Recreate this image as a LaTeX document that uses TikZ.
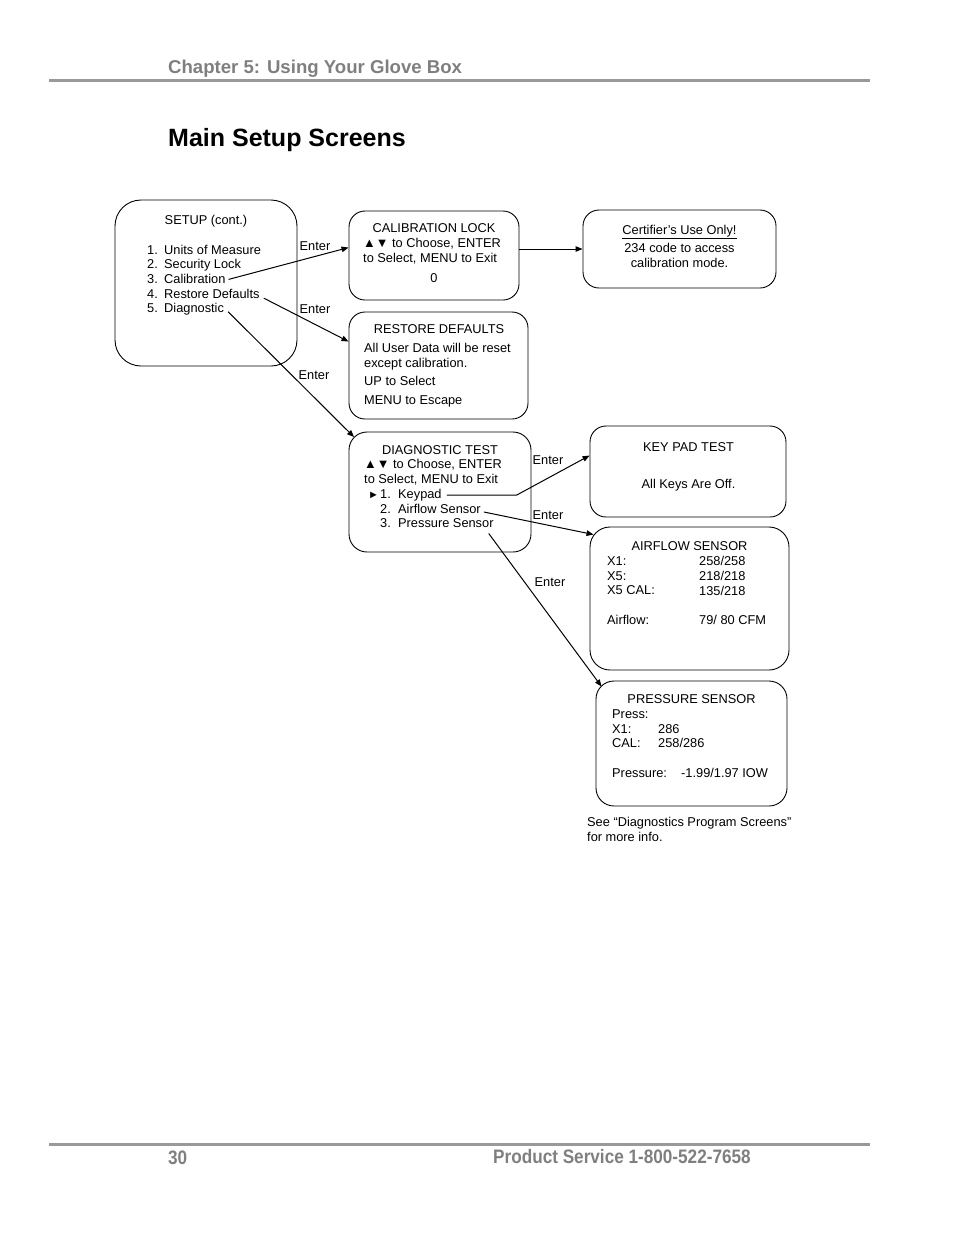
\documentclass[tikz,border=0pt]{standalone}
\usepackage{fontspec}
\setmainfont{Liberation Sans}
\newfontfamily\narrowfont[FakeStretch=0.88]{Liberation Sans}
\usetikzlibrary{arrows.meta,calc}
\definecolor{headgray}{HTML}{7F7F7F}
\definecolor{rulegray}{HTML}{999999}
\newcommand{\scrfont}{\fontsize{12.8}{14.7}\selectfont}

\begin{document}
\begin{tikzpicture}[
  x=1pt, y=-1pt,
  scr/.style={draw, line width=0.9pt, rounded corners=16pt},
  txt/.style={font=\scrfont, inner sep=0pt, anchor=base west},
  ctr/.style={font=\scrfont, inner sep=0pt, anchor=base},
  blkl/.style={font=\scrfont, inner sep=0pt, anchor=north west, align=left},
  blkc/.style={font=\scrfont, inner sep=0pt, anchor=north, align=center},
  lbl/.style={font=\scrfont, inner sep=0pt},
  arrow/.style={-{Triangle[length=7pt, width=5.5pt]}, line width=1pt}
]
\useasboundingbox (0,0) rectangle (954,1235);

% ---- Page head ----
\node[anchor=base west, inner sep=0pt, text=headgray,
  font=\fontsize{18.6}{22}\selectfont\bfseries] (chap) at (168,73)
  {Chapter 5: Using Your Glove Box};
\draw[rulegray, line width=3pt] (49,80) -- (870,80);
\node[anchor=base west, inner sep=0pt,
  font=\fontsize{25}{30}\selectfont\bfseries] (title) at (168,146)
  {Main Setup Screens};

% ---- Screens ----
\node[scr, rounded corners=26pt, minimum width=182pt, minimum height=166pt] (setup) at (206,283) {};
\node[scr, minimum width=170pt, minimum height=89pt] (callock) at (434,255.5) {};
\node[scr, minimum width=193pt, minimum height=78pt] (certif) at (679.5,249) {};
\node[scr, minimum width=179pt, minimum height=107pt] (restore) at (438.5,365.5) {};
\node[scr, rounded corners=18pt, minimum width=182pt, minimum height=120pt] (diag) at (440,492) {};
\node[scr, minimum width=196pt, minimum height=91pt] (keypad) at (688,471.5) {};
\node[scr, rounded corners=20pt, minimum width=199pt, minimum height=143pt] (airflow) at (689.5,598.5) {};
\node[scr, rounded corners=18pt, minimum width=191pt, minimum height=125pt] (press) at (691.5,743.5) {};

% setup menu
\node[ctr] (setuptl) at (206,224) {SETUP (cont.)};
\node[txt] (units)   at (147,254)   {\makebox[17pt][l]{1.}Units of Measure};
\node[txt] (seclock) at (147,268.7) {\makebox[17pt][l]{2.}Security Lock};
\node[txt] (calib)   at (147,283.4) {\makebox[17pt][l]{3.}Calibration};
\node[txt] (restdef) at (147,298.1) {\makebox[17pt][l]{4.}Restore Defaults};
\node[txt] (diagn)   at (147,312.8) {\makebox[17pt][l]{5.}Diagnostic};

% calibration lock + certifier note
\node[ctr] (caltl) at (434,232) {CALIBRATION LOCK};
\node[blkl] (caltxt) at (363,238) {▲▼ to Choose, ENTER\\ to Select, MENU to Exit};
\node[ctr] (calval) at (434,282) {0};
\node[blkc] (certtxt) at (679.5,225)
  {\underline{Certifier’s Use Only!}\\[3.3pt] 234 code to access\\ calibration mode.};

% restore defaults
\node[ctr] (resttl) at (439,333) {RESTORE DEFAULTS};
\node[blkl] (restxt) at (364,343.3)
  {All User Data will be reset\\ except calibration.\\[3.6pt] UP to Select\\[4.3pt] MENU to Escape};

% diagnostic test
\node[ctr] (diagtl) at (440,454) {DIAGNOSTIC TEST};
\node[blkl] (diagtxt) at (364,459) {▲▼ to Choose, ENTER\\ to Select, MENU to Exit};
\node[txt] (kpitem) at (368,498) {\makebox[12pt][l]{\fontsize{11}{12}\selectfont ►}\makebox[18pt][l]{1.}Keypad};
\node[txt] (afitem) at (380,513) {\makebox[18pt][l]{2.}Airflow Sensor};
\node[txt] (psitem) at (380,527.5) {\makebox[18pt][l]{3.}Pressure Sensor};

% key pad test
\node[ctr] (kptl)  at (688.5,451) {KEY PAD TEST};
\node[ctr] (kptxt) at (688.5,488) {All Keys Are Off.};

% airflow sensor
\node[ctr] (aftl) at (689.5,550) {AIRFLOW SENSOR};
\node[blkl] (afkeys) at (607,556.3) {X1:\\ X5:\\ X5 CAL:\\[14.7pt] Airflow:};
\node[blkl] (afvals) at (699,556.3) {258/258\\ 218/218\\ 135/218\\[14.7pt] 79/ 80 CFM};

% pressure sensor
\node[ctr] (pstl) at (691.5,703) {PRESSURE SENSOR};
\node[blkl] (pskeys) at (612,709.3) {Press:\\ X1:\\ CAL:\\[14.7pt] Pressure:};
\node[blkl] (psvals) at (658,724) {286\\ 258/286};
\node[txt] (psread) at (681,777.4) {-1.99/1.97 IOW};
\node[blkl] (seenote) at (587,817) {See “Diagnostics Program Screens”\\ for more info.};

% ---- Wiring ----
\draw[arrow] ($(calib.base east)+(3,-4)$) -- ($(callock.north west)+(0,37)$);
\node[lbl] (encal) at (315,246) {Enter};
\draw[arrow] ($(restdef.base east)+(4,0)$) -- ($(restore.north west)+(0,30)$);
\node[lbl] (enrest) at (315,309) {Enter};
\draw[arrow] ($(diagn.base east)+(4,-1)$) -- ($(diag.north west)+(5.5,5.5)$);
\node[lbl] (endiag) at (314,375) {Enter};
\draw[arrow] (callock.east |- certif.west) -- (certif.west);

\draw[arrow] ($(kpitem.base east)+(5,-3)$) -- ++(70,0) -- ($(keypad.north west)+(0,30)$);
\node[lbl] (enkey) at (548,460) {Enter};
\draw[arrow] ($(afitem.base east)+(3,-1)$) -- ($(airflow.north west)+(4,8)$);
\node[lbl] (enair) at (548,515) {Enter};
\draw[arrow] ($(psitem.base east)+(-5,6)$) -- ($(press.north west)+(6,6)$);
\node[lbl] (enpress) at (550,582) {Enter};

% ---- Page foot ----
\draw[rulegray, line width=3.5pt] (49,1144.5) -- (870,1144.5);
\node[anchor=base west, inner sep=0pt, text=headgray,
  font=\narrowfont\fontsize{19.5}{22}\selectfont\bfseries] (pgnum) at (168,1164) {30};
\node[anchor=base west, inner sep=0pt, text=headgray,
  font=\narrowfont\fontsize{19.5}{22}\selectfont\bfseries] (service) at (493,1163)
  {Product Service 1-800-522-7658};
\end{tikzpicture}
\end{document}
